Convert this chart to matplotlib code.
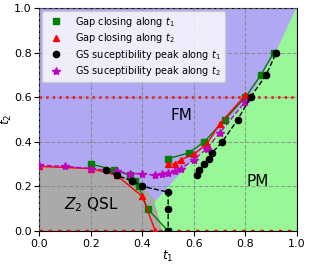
"""
Phase diagram in the (t1, t2) plane: FM, PM and Z2 QSL regions
"""
import matplotlib
matplotlib.use('Agg')
import matplotlib.pyplot as plt

# Gap closing along t1 (two branches)
gap_t1_lo_x = [0.2, 0.29, 0.35, 0.37, 0.385, 0.42, 0.5]
gap_t1_lo_y = [0.3, 0.275, 0.25, 0.225, 0.2, 0.1, 0.0]
gap_t1_hi_x = [0.5, 0.58, 0.64, 0.72, 0.8, 0.86, 0.91]
gap_t1_hi_y = [0.325, 0.35, 0.4, 0.5, 0.6, 0.7, 0.8]

# Gap closing along t2 (two branches)
gap_t2_lo_x = [0.0, 0.2, 0.3, 0.4, 0.45]
gap_t2_lo_y = [0.29, 0.28, 0.25, 0.155, 0.0]
gap_t2_hi_x = [0.5, 0.525, 0.55, 0.6, 0.65, 0.7, 0.8]
gap_t2_hi_y = [0.3, 0.3, 0.32, 0.345, 0.39, 0.48, 0.61]

# GS susceptibility peak along t1 (two branches)
sus_t1_lo_x = [0.26, 0.3, 0.36, 0.4, 0.5, 0.5, 0.5]
sus_t1_lo_y = [0.275, 0.25, 0.225, 0.2, 0.175, 0.1, 0.0]
sus_t1_hi_x = [0.61, 0.62, 0.64, 0.66, 0.67, 0.71, 0.77, 0.82, 0.88, 0.92]
sus_t1_hi_y = [0.25, 0.275, 0.3, 0.325, 0.35, 0.4, 0.5, 0.6, 0.7, 0.8]

# GS susceptibility peak along t2
sus_t2_x = [0.0, 0.1, 0.2, 0.3, 0.35, 0.4, 0.45, 0.475, 0.5, 0.525, 0.55, 0.6, 0.65, 0.7, 0.8]
sus_t2_y = [0.295, 0.29, 0.28, 0.268, 0.258, 0.257, 0.25, 0.255, 0.26, 0.268, 0.28, 0.32, 0.37, 0.44, 0.58]

# phase regions
qsl_x = [0.0, 0.0, 0.2, 0.26, 0.3, 0.36, 0.4, 0.45, 0.48]
qsl_y = [0.0, 0.29, 0.28, 0.275, 0.25, 0.225, 0.2, 0.13, 0.0]
pm_x = [0.48, 0.45, 0.82, 0.92, 1.0, 1.0]
pm_y = [0.0, 0.13, 0.6, 0.8, 1.0, 0.0]

fig = plt.figure(figsize=(3.1, 2.65), dpi=100)
ax = fig.add_axes([0.127, 0.128, 0.831, 0.842])

ax.set_facecolor('#b0a8f2')
ax.fill(qsl_x, qsl_y, color='#aaaaaa', zorder=1)
ax.fill(pm_x, pm_y, color='#98f898', zorder=1)

ax.grid(True, linestyle='--', color='gray', alpha=0.7, linewidth=0.8, zorder=1.5)
ax.set_axisbelow(False)

ax.axhline(0.6, color='red', linestyle=':', linewidth=1.8, zorder=2)
ax.axhline(0.0, color='red', linestyle=':', linewidth=2.5, zorder=2)

for xs, ys in [(gap_t1_lo_x, gap_t1_lo_y), (gap_t1_hi_x, gap_t1_hi_y)]:
    ax.plot(xs, ys, '-', color='green', marker='s', markersize=4.5, linewidth=1, zorder=3)
for xs, ys in [(gap_t2_lo_x, gap_t2_lo_y), (gap_t2_hi_x, gap_t2_hi_y)]:
    ax.plot(xs, ys, '-', color='red', marker='^', markersize=5, linewidth=1, zorder=4)
ax.plot(sus_t2_x, sus_t2_y, '--', color='m', marker='*', markersize=6, linewidth=1, zorder=5)
for xs, ys in [(sus_t1_lo_x, sus_t1_lo_y), (sus_t1_hi_x, sus_t1_hi_y)]:
    ax.plot(xs, ys, '--', color='black', marker='o', markersize=4.5, linewidth=1, zorder=6)

# legend shows markers only
ax.plot([], [], 's', color='green', markersize=4.5, label='Gap closing along $t_1$')
ax.plot([], [], '^', color='red', markersize=5, label='Gap closing along $t_2$')
ax.plot([], [], 'o', color='black', markersize=4.5, label='GS suceptibility peak along $t_1$')
ax.plot([], [], '*', color='m', markersize=6, label='GS suceptibility peak along $t_2$')
ax.legend(loc='upper left', fontsize=7, framealpha=0.8, handletextpad=1.0,
          borderpad=0.4, labelspacing=0.25, borderaxespad=0.3)

ax.text(0.55, 0.52, 'FM', fontsize=11, ha='center', va='center')
ax.text(0.847, 0.224, 'PM', fontsize=11, ha='center', va='center')
ax.text(0.204, 0.119, '$Z_2$ QSL', fontsize=11, ha='center', va='center')

ax.set_xlim(0, 1)
ax.set_ylim(0, 1)
ax.set_xticks([0.0, 0.2, 0.4, 0.6, 0.8, 1.0])
ax.set_yticks([0.0, 0.2, 0.4, 0.6, 0.8, 1.0])
ax.tick_params(labelsize=8, pad=2)
ax.set_xlabel('$t_1$', fontsize=9, labelpad=0)
ax.set_ylabel('$t_2$', fontsize=9, labelpad=0)

fig.savefig('out.png', dpi=100)
